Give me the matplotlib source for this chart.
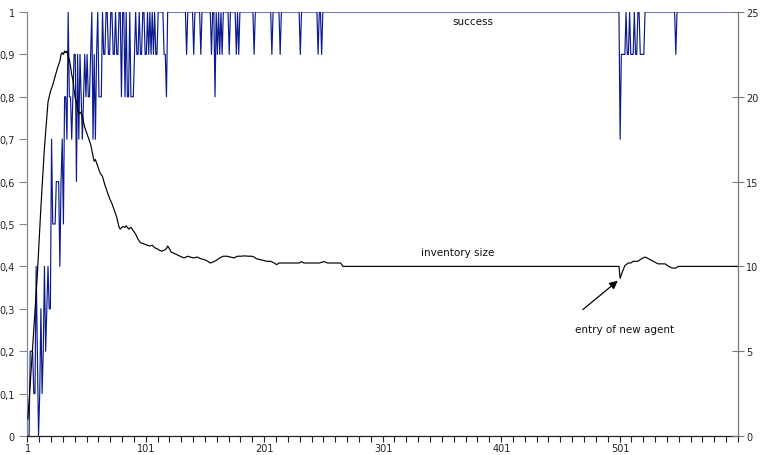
import numpy as np
import matplotlib
matplotlib.use('Agg')
import matplotlib.pyplot as plt
from matplotlib.ticker import FuncFormatter

n_rounds = 600

# success rate of the first 60 rounds
success_start = [0.0, 0.0, 0.2, 0.2, 0.2, 0.1, 0.1, 0.4, 0.2, 0.0,
                 0.1, 0.3, 0.1, 0.2, 0.4, 0.2, 0.3, 0.4, 0.3, 0.3,
                 0.7, 0.5, 0.5, 0.5, 0.6, 0.6, 0.6, 0.4, 0.6, 0.7,
                 0.5, 0.8, 0.8, 0.7, 1.0, 0.8, 0.8, 0.7, 0.8, 0.9,
                 0.9, 0.6, 0.9, 0.7, 0.9, 0.8, 0.7, 0.8, 0.9, 0.8,
                 0.9, 0.8, 0.8, 0.9, 1.0, 0.7, 0.9, 0.7, 0.9, 1.0]

# afterwards success stays at 1.0 except in these rounds
success_dips = {61: 0.8, 62: 0.8, 63: 0.8, 65: 0.9, 66: 0.9, 69: 0.9, 70: 0.9,
                73: 0.9, 74: 0.9, 76: 0.9, 77: 0.9, 80: 0.8, 83: 0.8, 85: 0.8,
                86: 0.8, 88: 0.8, 89: 0.8, 90: 0.8, 91: 0.9, 93: 0.9, 94: 0.9,
                96: 0.9, 97: 0.9, 100: 0.9, 101: 0.9, 103: 0.9, 105: 0.9,
                107: 0.9, 109: 0.9, 110: 0.9, 116: 0.9, 117: 0.9, 118: 0.8,
                135: 0.9, 141: 0.9, 147: 0.9, 156: 0.9, 159: 0.8, 161: 0.9,
                163: 0.9, 165: 0.9, 171: 0.9, 177: 0.9, 179: 0.9, 192: 0.9,
                207: 0.9, 214: 0.9, 231: 0.9, 246: 0.9, 249: 0.9,
                501: 0.7, 502: 0.9, 503: 0.9, 504: 0.9, 505: 0.9, 507: 0.9,
                508: 0.9, 510: 0.9, 511: 0.9, 512: 0.9, 514: 0.9, 515: 0.9,
                518: 0.9, 519: 0.9, 520: 0.9, 521: 0.9, 548: 0.9}

# average inventory size, sampled rounds
inv_round = [1, 5, 9, 12, 15, 18, 20, 22, 24, 26, 28, 29, 30, 31, 32, 33, 34,
             35, 36, 37, 38, 39, 40, 41, 42, 43, 44, 45, 46, 47, 48, 49, 50,
             52, 54, 56, 57, 58, 60, 62, 64, 66, 68, 70, 72, 74, 76, 78, 79,
             81, 83, 84, 86, 88, 90, 92, 94, 96, 98, 100, 102, 104, 106, 108,
             110, 112, 114, 116, 118, 119, 120, 122, 125, 128, 131, 133, 136,
             138, 141, 144, 147, 150, 153, 155, 157, 160, 163, 166, 169, 172,
             175, 178, 181, 184, 187, 190, 192, 194, 197, 200, 203, 206, 209,
             211, 213, 220, 230, 232, 234, 247, 251, 254, 265, 267, 500, 501,
             503, 505, 508, 510, 512, 514, 516, 519, 522, 525, 529, 533, 539,
             542, 545, 548, 550, 600]
inv_size = [1.0, 5.2, 9.5, 13.5, 17.0, 19.7, 20.3, 20.7, 21.2, 21.7, 22.1,
            22.5, 22.6, 22.5, 22.7, 22.6, 22.7, 22.4, 22.2, 21.8, 21.3, 21.0,
            20.4, 19.9, 19.7, 19.2, 19.0, 19.1, 19.0, 18.9, 18.5, 18.2, 18.0,
            17.6, 17.2, 16.5, 16.2, 16.3, 15.9, 15.5, 15.3, 14.8, 14.4, 14.0,
            13.7, 13.3, 12.9, 12.3, 12.2, 12.35, 12.3, 12.4, 12.2, 12.3, 12.1,
            11.9, 11.6, 11.4, 11.35, 11.3, 11.25, 11.2, 11.25, 11.1, 11.05,
            10.95, 10.9, 10.95, 11.05, 11.2, 11.1, 10.85, 10.75, 10.65, 10.55,
            10.5, 10.6, 10.55, 10.5, 10.55, 10.45, 10.4, 10.3, 10.2, 10.25,
            10.35, 10.5, 10.6, 10.6, 10.55, 10.5, 10.6, 10.6, 10.62, 10.6,
            10.6, 10.55, 10.45, 10.4, 10.35, 10.3, 10.3, 10.2, 10.1, 10.2,
            10.2, 10.2, 10.28, 10.2, 10.2, 10.28, 10.2, 10.2, 10.0, 10.0, 9.3,
            9.7, 10.05, 10.2, 10.2, 10.3, 10.3, 10.3, 10.45, 10.55, 10.45,
            10.3, 10.15, 10.15, 10.0, 9.9, 9.9, 10.0, 10.0]

x_labels = [1, 101, 201, 301, 401, 501]

rounds = np.arange(1, n_rounds + 1)
success = np.ones(n_rounds)
success[:len(success_start)] = success_start
for r, v in success_dips.items():
    success[r - 1] = v

fig = plt.figure(figsize=(7.62, 4.56), dpi=100)
ax = fig.add_axes([0.0358, 0.0417, 0.9327, 0.9298])
ax2 = ax.twinx()

ax.plot(rounds, success, color='#0b1a8c', lw=0.85)
ax2.plot(inv_round, inv_size, color='black', lw=0.85)

ax.set_xlim(0.5, n_rounds + 0.5)
ax.set_ylim(0, 1)
ax2.set_ylim(0, 25)

# ticks every 10 rounds, labels every 100
ax.set_xticks(np.arange(0.5, n_rounds + 1, 10))
ax.set_xticklabels([])
ax.set_xticks(x_labels, minor=True)
ax.set_xticklabels([str(v) for v in x_labels], minor=True)
ax.tick_params(axis='x', which='major', direction='out', length=4, width=0.8,
               color='#222222')
ax.tick_params(axis='x', which='minor', length=0, pad=5, labelsize=7,
               labelcolor='#222222')

ax.set_yticks(np.linspace(0, 1, 11))
ax.yaxis.set_major_formatter(FuncFormatter(
    lambda v, p: ('%g' % round(v, 1)).replace('.', ',')))
ax.tick_params(axis='y', direction='out', length=6, width=0.8, color='#888888',
               labelsize=7, labelcolor='#222222', pad=3)

ax2.set_yticks(np.arange(0, 26, 5))
ax2.tick_params(axis='y', direction='inout', length=8, width=0.8,
                color='#777777', labelsize=7, labelcolor='#222222', pad=2)

for s in ['top', 'right']:
    ax.spines[s].set_visible(False)
for s in ['top', 'left', 'bottom']:
    ax2.spines[s].set_visible(False)
ax.spines['left'].set_color('#888888')
ax.spines['bottom'].set_color('#222222')
ax2.spines['right'].set_color('#777777')
for sp in [ax.spines['left'], ax.spines['bottom'], ax2.spines['right']]:
    sp.set_linewidth(0.9)

ax.text(377, 0.979, 'success', ha='center', va='center', fontsize=7.5,
        color='#111111')
ax.text(364, 0.434, 'inventory size', ha='center', va='center', fontsize=7.5,
        color='#111111')
ax.text(505, 0.252, 'entry of new agent', ha='center', va='center',
        fontsize=7.5, color='#111111')
ax.annotate('', xy=(499, 0.366), xytext=(469.5, 0.298),
            arrowprops=dict(arrowstyle='-|>', color='black', lw=0.9,
                            mutation_scale=12, shrinkA=0, shrinkB=0))

fig.savefig('out.png', dpi=100)
